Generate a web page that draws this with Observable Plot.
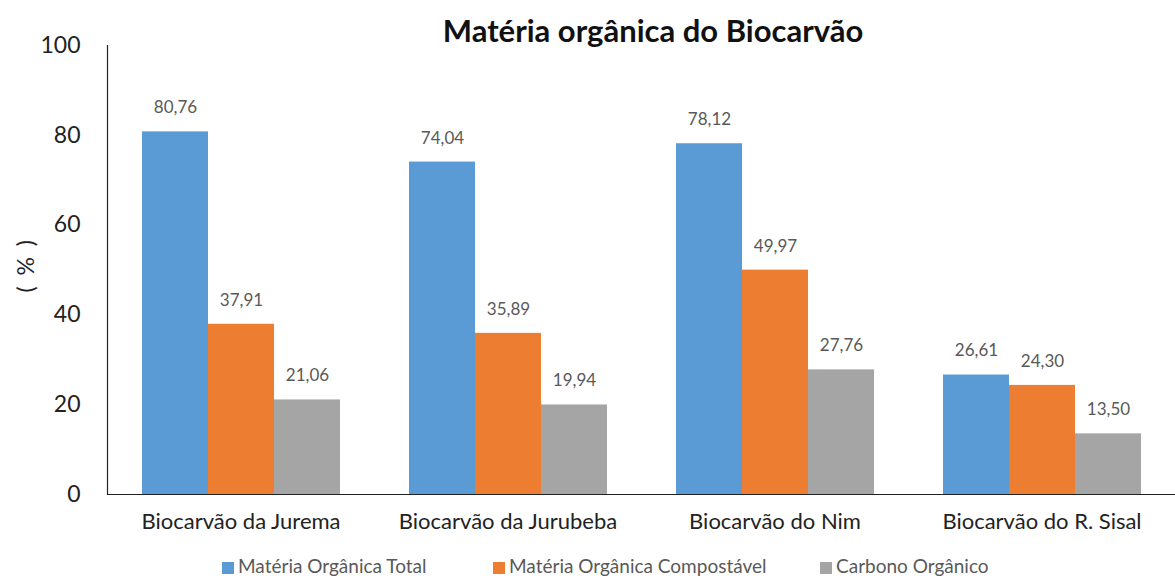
<!DOCTYPE html>
<html>
<head>
<meta charset="utf-8">
<script src="https://cdn.jsdelivr.net/npm/d3@7"></script>
<script src="https://cdn.jsdelivr.net/npm/@observablehq/plot@0.6"></script>
<style>
  html, body { margin: 0; padding: 0; background: #fff; overflow: hidden; }
  #wrap { position: relative; width: 1175px; height: 578px; font-family: Lato, "Open Sans", sans-serif; }
  #title { position: absolute; left: 433px; width: 440px; top: 11px; text-align: center; font-weight: bold; font-size: 31px; line-height: 38px; color: #111; white-space: nowrap; }
  #ylabel { position: absolute; left: 25px; top: 265px; transform: translate(-50%, -50%) rotate(-90deg); font-size: 23px; letter-spacing: 2.5px; color: #222; white-space: pre; }
  #chart { position: absolute; left: 0; top: 0; }
  .leg { position: absolute; top: 555px; height: 22px; font-size: 19px; line-height: 22px; color: #595959; display: flex; align-items: center; white-space: nowrap; }
  .leg span.sw { display: inline-block; width: 12px; height: 12px; margin-right: 4px; margin-top: 3px; }
</style>
</head>
<body>
<div id="wrap">
  <div id="chart"></div>
  <div id="title">Matéria orgânica do Biocarvão</div>
  <div id="ylabel">( % )</div>
  <div id="legend"></div>
</div>
<script>
const categories = ["Biocarvão da Jurema", "Biocarvão da Jurubeba", "Biocarvão do Nim", "Biocarvão do R. Sisal"];
const series = ["Matéria Orgânica Total", "Matéria Orgânica Compostável", "Carbono Orgânico"];
const totalValues = [80.76, 74.04, 78.12, 26.61];
const compostavelValues = [37.91, 35.89, 49.97, 24.30];
const carbonoValues = [21.06, 19.94, 27.76, 13.50];
const seriesColors = ["#5B9BD5", "#ED7D31", "#A5A5A5"];
const yTicks = [0, 20, 40, 60, 80, 100];
const legendX = [222, 493, 820];

const valueArrays = [totalValues, compostavelValues, carbonoValues];
const data = categories.flatMap((c, i) =>
  series.map((s, j) => ({category: c, series: s, value: valueArrays[j][i]}))
);

const chart = Plot.plot({
  width: 1175,
  height: 550,
  marginLeft: 107,
  marginRight: 0,
  marginTop: 45,
  marginBottom: 56,
  style: {fontFamily: "Lato, 'Open Sans', sans-serif", color: "#222", background: "transparent"},
  fx: {domain: categories, paddingInner: 0, paddingOuter: 0, label: null},
  x: {domain: series, paddingInner: 0, paddingOuter: 0.5, axis: null},
  y: {domain: [0, 100]},
  color: {domain: series, range: seriesColors},
  marks: [
    Plot.barY(data, {fx: "category", x: "series", y: "value", fill: "series"}),
    Plot.text(data, {
      fx: "category", x: "series", y: "value",
      text: d => d.value.toFixed(2).replace(".", ","),
      dy: -24, fill: "#595959", fontSize: 17
    }),
    Plot.ruleY([0], {stroke: "#222", strokeWidth: 1.2}),
    Plot.frame({anchor: "left", facetAnchor: "left", stroke: "#222", strokeWidth: 1.2}),
    Plot.axisY({ticks: yTicks, tickSize: 0, tickPadding: 27, fontSize: 23, label: null, facetAnchor: "left", fill: "#222"}),
    Plot.axisFx({anchor: "bottom", tickSize: 0, tickPadding: 19, fontSize: 22, label: null, fill: "#222"})
  ]
});
document.getElementById("chart").appendChild(chart);

const legend = document.getElementById("legend");
series.forEach((s, j) => {
  const d = document.createElement("div");
  d.className = "leg";
  d.style.left = legendX[j] + "px";
  d.innerHTML = `<span class="sw" style="background:${seriesColors[j]}"></span>${s}`;
  legend.appendChild(d);
});
</script>
</body>
</html>
